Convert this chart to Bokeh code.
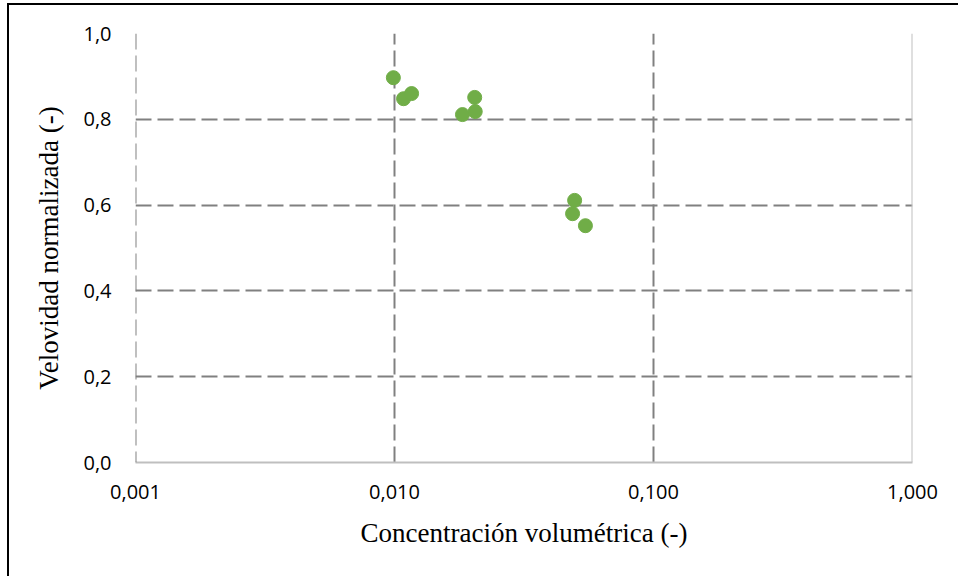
from bokeh.plotting import figure
from bokeh.models import Range1d, FixedTicker, CustomJSTickFormatter, Span
from bokeh.embed import file_html
from bokeh.resources import INLINE

# Data
concentracion = [0.0099, 0.01084, 0.01164, 0.0183, 0.0204, 0.0205, 0.0496, 0.0487, 0.0546]
velocidad = [0.897, 0.848, 0.860, 0.811, 0.851, 0.818, 0.611, 0.580, 0.552]
x_ticks = [0.001, 0.01, 0.1, 1.0]
y_ticks = [0.0, 0.2, 0.4, 0.6, 0.8, 1.0]
x_title = "Concentración volumétrica (-)"
y_title = "Velovidad normalizada (-)"

p = figure(width=951, height=573, x_axis_type="log",
           x_range=Range1d(0.001, 1.0), y_range=Range1d(0.0, 1.0),
           output_backend="svg", toolbar_location=None,
           min_border_left=126, min_border_right=48,
           min_border_top=28, min_border_bottom=116)
p.margin = (3, 0, 0, 7)
p.styles = {"border-left": "2px solid black", "border-top": "2px solid black"}
p.outline_line_color = None
p.background_fill_color = "white"
p.border_fill_color = "white"

grid_color = "#808080"
p.xaxis.ticker = FixedTicker(ticks=x_ticks)
p.yaxis.ticker = FixedTicker(ticks=y_ticks)
p.xgrid.ticker = FixedTicker(ticks=x_ticks[:-1])
p.ygrid.ticker = FixedTicker(ticks=y_ticks[1:])
for g in (p.xgrid, p.ygrid):
    g.grid_line_color = grid_color
    g.grid_line_width = 2
    g.grid_line_dash = "16 6"
    g.minor_grid_line_color = None

p.xaxis.formatter = CustomJSTickFormatter(code="return tick.toFixed(3).replace('.', ',');")
p.yaxis.formatter = CustomJSTickFormatter(code="return tick.toFixed(1).replace('.', ',');")

for ax in (p.xaxis, p.yaxis):
    ax.major_tick_line_color = None
    ax.minor_tick_line_color = None
    ax.major_label_text_font = "Open Sans"
    ax.major_label_text_font_size = "20px"
    ax.major_label_text_color = "#000000"
    ax.axis_label_text_font = "Liberation Serif"
    ax.axis_label_text_font_size = "27px"
    ax.axis_label_text_font_style = "normal"
    ax.axis_label_text_color = "#000000"

p.xaxis.axis_line_color = "#bfbfbf"
p.xaxis.axis_line_width = 2
p.yaxis.axis_line_color = None
p.xaxis.major_label_standoff = 16
p.yaxis.major_label_standoff = 18
p.xaxis.axis_label = x_title
p.yaxis.axis_label = y_title
p.xaxis.axis_label_standoff = 16
p.yaxis.axis_label_standoff = 16

left_edge = Span(location=x_ticks[0], dimension="height", line_color=grid_color,
                 line_width=2, line_dash="16 6")
right_edge = Span(location=x_ticks[-1], dimension="height", line_color="#bfbfbf", line_width=2)
p.add_layout(left_edge)
p.add_layout(right_edge)

p.scatter(concentracion, velocidad, size=14, fill_color="#70ad47", line_color="#70ad47")

open("out.html", "w").write(file_html(p, INLINE))
